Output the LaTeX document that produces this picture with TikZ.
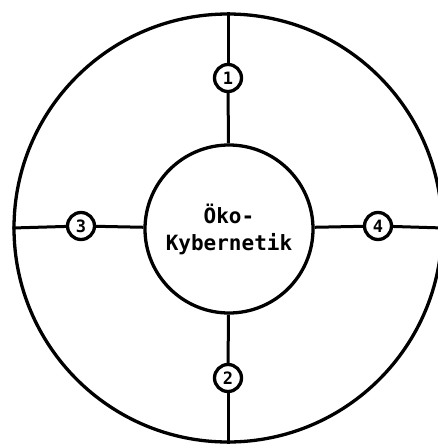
\documentclass[tikz,border=0pt]{standalone}
\usepackage{fontspec}
\newfontfamily\diafont{DejaVu Sans Mono}
\begin{document}
\begin{tikzpicture}[x=1pt,y=-1pt,
  ring/.style={circle,draw,line width=3.3pt,inner sep=0pt},
  numbox/.style={ring,minimum size=27pt,font=\diafont\bfseries\fontsize{17}{17}\selectfont},
  link/.style={line width=3pt}]
\useasboundingbox (0,0) rectangle (438,445);
\node[ring,minimum size=428pt] (outer) at (228,228) {};
\node[ring,minimum size=168pt,align=center,font=\diafont\bfseries\fontsize{21}{27}\selectfont] (core) at (229,229) {Öko-\\Kybernetik};
\node[numbox] (n1) at (228,78) {1};
\node[numbox] (n2) at (228,378) {2};
\node[numbox] (n3) at (81,226) {3};
\node[numbox] (n4) at (378,226) {4};
\draw[link] (outer.north) -- (n1);
\draw[link] (n1) -- (core);
\draw[link] (core) -- (n2);
\draw[link] (n2) -- (outer.south);
\draw[link] (outer.west) -- (n3);
\draw[link] (n3) -- (core);
\draw[link] (core) -- (n4);
\draw[link] (n4) -- (outer.east);
\end{tikzpicture}
\end{document}
